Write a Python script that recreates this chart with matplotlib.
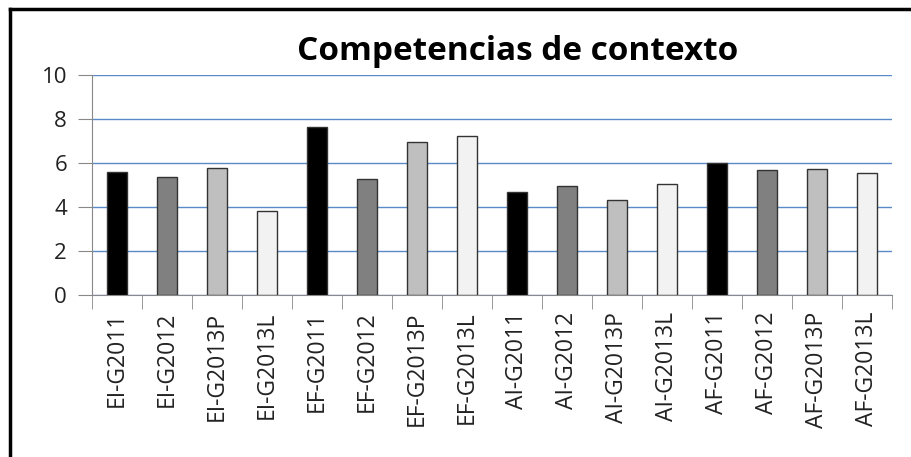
import matplotlib.pyplot as plt
from matplotlib.lines import Line2D

categories = ['EI-G2011', 'EI-G2012', 'EI-G2013P', 'EI-G2013L',
              'EF-G2011', 'EF-G2012', 'EF-G2013P', 'EF-G2013L',
              'AI-G2011', 'AI-G2012', 'AI-G2013P', 'AI-G2013L',
              'AF-G2011', 'AF-G2012', 'AF-G2013P', 'AF-G2013L']
values = [5.6, 5.36, 5.79, 3.8,
          7.65, 5.26, 6.95, 7.24,
          4.68, 4.97, 4.32, 5.03,
          5.99, 5.67, 5.73, 5.56]
group_colors = ['#000000', '#808080', '#bfbfbf', '#f2f2f2']
colors = [group_colors[i % 4] for i in range(len(values))]

fig = plt.figure(figsize=(9.11, 4.57), dpi=100)
ax = fig.add_axes([92 / 911, 1 - 295 / 457, 800 / 911, 220 / 457])

x = range(len(values))
ax.bar(x, values, width=0.4, color=colors, edgecolor='#333333', linewidth=1, zorder=3)

ax.set_ylim(0, 10)
ax.set_xlim(-0.5, len(values) - 0.5)
ax.set_yticks([0, 2, 4, 6, 8, 10])
ax.yaxis.grid(True, color='#5b8ac9', linewidth=1, zorder=0)
ax.tick_params(axis='y', length=10, color='#888888', labelsize=16, pad=8)
for lab in ax.get_yticklabels():
    lab.set_fontfamily('Open Sans')
    lab.set_color('#222222')

ax.set_xticks(x)
ax.set_xticklabels(categories, rotation=90, fontsize=16.5, family='Open Sans', color='#222222')
ax.tick_params(axis='x', length=0, pad=12)
ax.set_xticks([i - 0.5 for i in range(len(values) + 1)], minor=True)
ax.tick_params(axis='x', which='minor', length=10, color='#888888')

for side in ['top', 'right']:
    ax.spines[side].set_visible(False)
ax.spines['left'].set_color('#888888')
ax.spines['bottom'].set_color('#888888')

fig.text(0.5 * (290 + 745) / 911, 1 - 51 / 457, 'Competencias de contexto', ha='center', va='center',
         fontsize=24, fontweight='bold', family='Open Sans')

# outer frame (top and left edges only visible)
fig.add_artist(Line2D([10 / 911, 1], [1 - 9 / 457, 1 - 9 / 457], color='black', linewidth=2.5,
                      transform=fig.transFigure))
fig.add_artist(Line2D([10 / 911, 10 / 911], [0, 1 - 9 / 457], color='black', linewidth=2.5,
                      transform=fig.transFigure))

fig.savefig('out.png', dpi=100)
